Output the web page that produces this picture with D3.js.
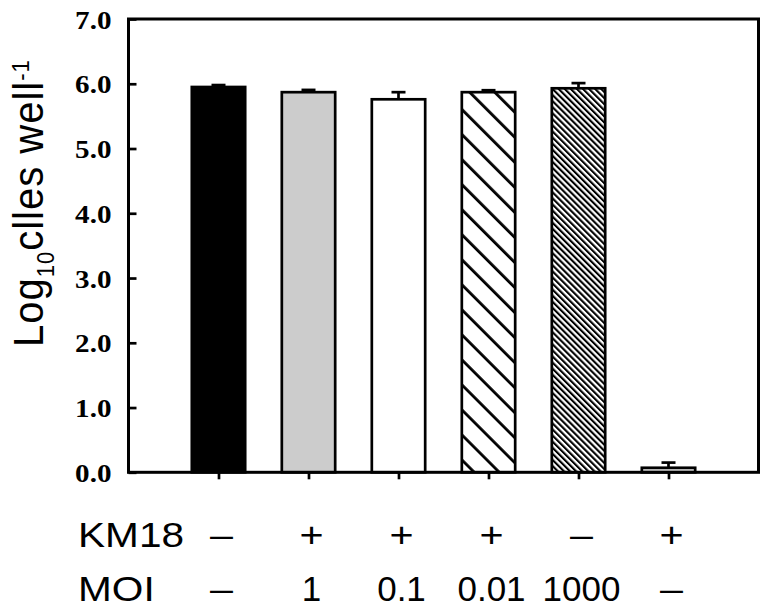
<!DOCTYPE html>
<html><head><meta charset="utf-8">
<script src="https://cdn.jsdelivr.net/npm/d3@7"></script>
<style>body{margin:0;background:#fff}</style>
</head><body>
<svg id="c" width="770" height="614"></svg>
<script>
const categories = ["ctrl", "KM18 MOI 1", "KM18 MOI 0.1", "KM18 MOI 0.01", "MOI 1000", "KM18"];
const values = [5.95, 5.87, 5.76, 5.87, 5.93, 0.07];
const errors = [0.03, 0.035, 0.11, 0.03, 0.08, 0.08];
const fills = ["#000000", "#cccccc", "#ffffff", "url(#hatchSparse)", "url(#hatchDense)", "#cccccc"];
const km18Labels = ["–", "+", "+", "+", "–", "+"];
const moiLabels = ["–", "1", "0.1", "0.01", "1000", "–"];
const yTicks = [0, 1, 2, 3, 4, 5, 6, 7];

const svg = d3.select("#c");
const L = 128.5, R = 758.5, T = 19, B = 472.3;

const defs = svg.append("defs");
function hatch(id, spacing, sw) {
  const p = defs.append("pattern").attr("id", id)
    .attr("patternUnits", "userSpaceOnUse")
    .attr("width", spacing).attr("height", spacing)
    .attr("patternTransform", "rotate(-45)");
  p.append("rect").attr("width", spacing).attr("height", spacing).attr("fill", "#fff");
  p.append("rect").attr("x", 0).attr("width", sw).attr("height", spacing).attr("fill", "#000");
}
hatch("hatchSparse", 17.7, 2.8);
hatch("hatchDense", 4.3, 2.1);

const x = d3.scalePoint().domain(categories).range([L, R]).padding(1);
const bw = x.step() * 0.593;
const y = d3.scaleLinear().domain([0, 7]).range([B, T]);

// bars
svg.append("g").selectAll("rect").data(categories).join("rect")
  .attr("x", d => x(d) - bw / 2)
  .attr("y", (d, i) => y(values[i]))
  .attr("width", bw)
  .attr("height", (d, i) => y(0) - y(values[i]))
  .attr("fill", (d, i) => fills[i])
  .attr("stroke", "#000").attr("stroke-width", 2.7);

// error bars
const eg = svg.append("g").attr("stroke", "#000").attr("stroke-width", 2.7);
categories.forEach((c, i) => {
  eg.append("line").attr("x1", x(c)).attr("x2", x(c))
    .attr("y1", y(values[i])).attr("y2", y(values[i] + errors[i]));
  eg.append("line").attr("x1", x(c) - 7).attr("x2", x(c) + 7)
    .attr("y1", y(values[i] + errors[i])).attr("y2", y(values[i] + errors[i]));
});

// y axis
const ya = svg.append("g").attr("transform", `translate(${L},0)`)
  .call(d3.axisLeft(y).tickValues(yTicks).tickFormat(d3.format(".1f")).tickSizeInner(-8).tickSizeOuter(0));
ya.select(".domain").remove();
ya.selectAll(".tick line").attr("stroke", "#000").attr("stroke-width", 2.7);
ya.selectAll(".tick text")
  .attr("x", null).attr("dy", null)
  .attr("transform", `translate(-17,9) scale(1.12,1)`)
  .attr("text-anchor", "end")
  .attr("font-family", "'Liberation Serif', 'Times New Roman', serif")
  .attr("font-weight", "bold").attr("font-size", 26).attr("fill", "#000");

// x axis ticks
const xa = svg.append("g").attr("transform", `translate(0,${B})`)
  .call(d3.axisBottom(x).tickSize(7).tickFormat(""));
xa.select(".domain").remove();
xa.selectAll(".tick line").attr("stroke", "#000").attr("stroke-width", 2.7);

// frame
svg.append("rect").attr("x", L).attr("y", T).attr("width", R - L).attr("height", B - T)
  .attr("fill", "none").attr("stroke", "#000").attr("stroke-width", 3);

const font = "'Liberation Sans', Arial, sans-serif";

// y label
const yl = svg.append("text")
  .attr("transform", `translate(43,347) scale(1.08,1) rotate(-90)`)
  .attr("font-family", font).attr("letter-spacing", 1)
  .attr("font-size", 40).attr("fill", "#000");
yl.append("tspan").text("Log");
yl.append("tspan").attr("font-size", 22).attr("dy", 10).text("10");
yl.append("tspan").attr("dy", -10).text("clles well");
yl.append("tspan").attr("font-size", 22).attr("dy", -13).text("-1");

// bottom rows
function row(label, labels, base) {
  svg.append("text").attr("transform", `translate(78,${base}) scale(1.16,1)`)
    .attr("font-family", font).attr("font-size", 35).attr("fill", "#000").text(label);
  svg.append("g").selectAll("text").data(categories).join("text")
    .attr("transform", (d, i) => {
      const sym = labels[i] === "+" || labels[i] === "–";
      return `translate(${x(d) + 3},${base}) scale(${sym ? 1.18 : 1},1)`;
    })
    .attr("text-anchor", "middle")
    .attr("font-family", font).attr("font-size", 35).attr("fill", "#000")
    .text((d, i) => labels[i]);
}
row("KM18", km18Labels, 547);
row("MOI", moiLabels, 601);
</script>
</body></html>
